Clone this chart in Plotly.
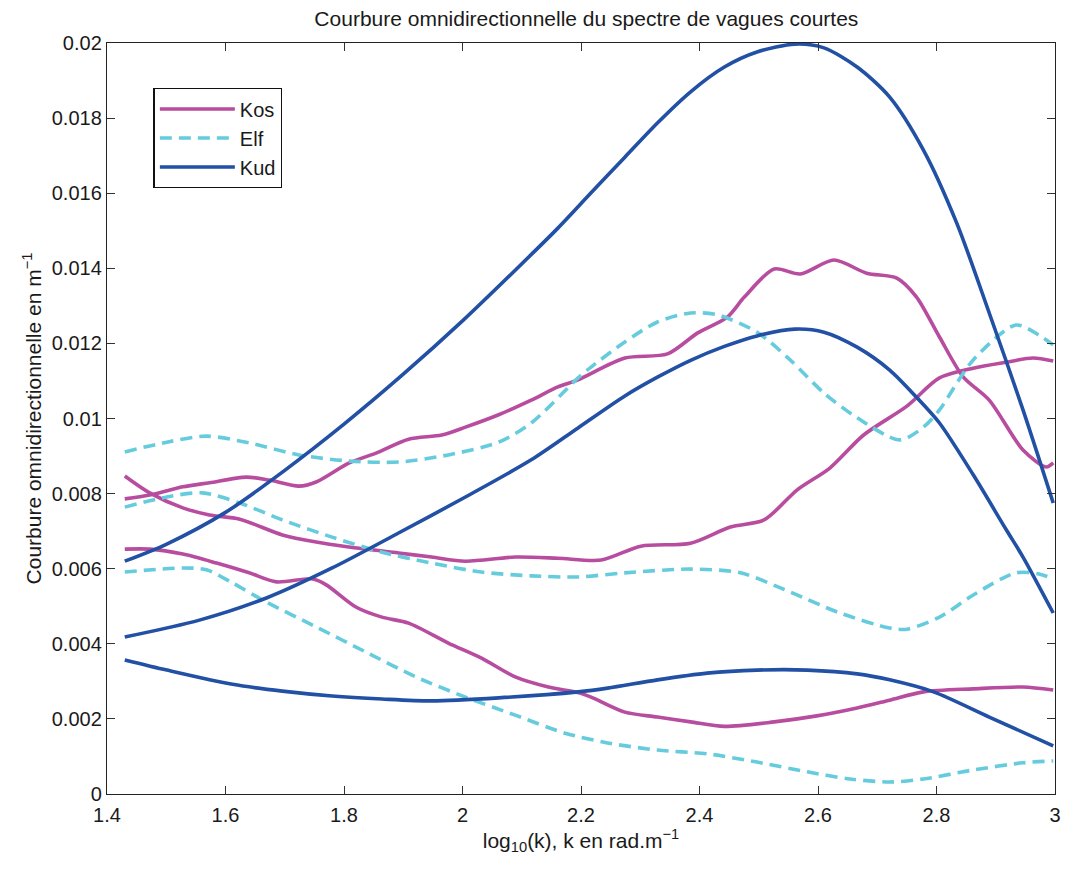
import plotly.graph_objects as go

# ---------------- data ----------------
kos1_x = [1.430, 1.472, 1.528, 1.573, 1.635, 1.674, 1.724, 1.753, 1.808, 1.854, 1.909, 1.965, 2.005, 2.061, 2.116,
          2.161, 2.195, 2.274, 2.346, 2.397, 2.447, 2.476, 2.526, 2.570, 2.627, 2.682, 2.733, 2.766, 2.805, 2.845,
          2.889, 2.946, 2.985, 2.997]
kos1_y = [0.00786, 0.00796, 0.00818, 0.00829, 0.00844, 0.00836, 0.00820, 0.00831, 0.00881, 0.00908, 0.00945, 0.00956,
          0.00977, 0.01010, 0.01049, 0.01084, 0.01103, 0.01161, 0.01172, 0.01228, 0.01270, 0.01324, 0.01398, 0.01385,
          0.01422, 0.01387, 0.01374, 0.01324, 0.01217, 0.01111, 0.01049, 0.00916, 0.00871, 0.00882]

kos2_x = [1.430, 1.472, 1.528, 1.573, 1.624, 1.696, 1.753, 1.808, 1.892, 1.948, 2.005, 2.089, 2.161, 2.234, 2.301,
          2.385, 2.452, 2.509, 2.565, 2.620, 2.677, 2.750, 2.805, 2.862, 2.918, 2.963, 2.997]
kos2_y = [0.00847, 0.00802, 0.00762, 0.00743, 0.00732, 0.00690, 0.00671, 0.00658, 0.00642, 0.00631, 0.00620, 0.00631,
          0.00628, 0.00623, 0.00660, 0.00668, 0.00711, 0.00730, 0.00810, 0.00868, 0.00956, 0.01033, 0.01108, 0.01134,
          0.01150, 0.01161, 0.01153]

kos3_x = [1.430, 1.472, 1.528, 1.585, 1.640, 1.686, 1.746, 1.770, 1.820, 1.864, 1.909, 1.976, 2.032, 2.089, 2.145,
          2.195, 2.217, 2.274, 2.329, 2.385, 2.442, 2.526, 2.598, 2.666, 2.721, 2.778, 2.862, 2.946, 2.997]
kos3_y = [0.00652, 0.00652, 0.00639, 0.00615, 0.00589, 0.00565, 0.00573, 0.00557, 0.00498, 0.00471, 0.00455, 0.00402,
          0.00362, 0.00312, 0.00285, 0.00270, 0.00258, 0.00218, 0.00205, 0.00192, 0.00180, 0.00192, 0.00208, 0.00229,
          0.00250, 0.00272, 0.00280, 0.00285, 0.00277]

elf1_x = [1.430, 1.501, 1.568, 1.640, 1.724, 1.808, 1.892, 1.976, 2.061, 2.116, 2.195, 2.217, 2.274, 2.329, 2.385,
          2.430, 2.497, 2.553, 2.610, 2.666, 2.738, 2.778, 2.805, 2.862, 2.934, 2.973, 2.997]
elf1_y = [0.00911, 0.00937, 0.00953, 0.00935, 0.00903, 0.00887, 0.00884, 0.00903, 0.00937, 0.00988, 0.01108, 0.01137,
          0.01204, 0.01257, 0.01281, 0.01276, 0.01230, 0.01156, 0.01068, 0.01002, 0.00943, 0.00977, 0.01023, 0.01156,
          0.01249, 0.01222, 0.01196]

elf2_x = [1.430, 1.501, 1.561, 1.624, 1.696, 1.780, 1.864, 1.948, 2.032, 2.116, 2.195, 2.274, 2.385, 2.469, 2.553,
          2.637, 2.721, 2.750, 2.805, 2.862, 2.934, 2.973, 2.997]
elf2_y = [0.00764, 0.00791, 0.00802, 0.00775, 0.00730, 0.00684, 0.00644, 0.00615, 0.00591, 0.00581, 0.00578, 0.00589,
          0.00599, 0.00589, 0.00538, 0.00482, 0.00442, 0.00439, 0.00471, 0.00530, 0.00589, 0.00586, 0.00573]

elf3_x = [1.430, 1.528, 1.568, 1.612, 1.669, 1.753, 1.837, 1.921, 2.005, 2.089, 2.173, 2.245, 2.329, 2.413, 2.497,
          2.582, 2.654, 2.721, 2.778, 2.862, 2.946, 2.997]
elf3_y = [0.00591, 0.00602, 0.00597, 0.00562, 0.00511, 0.00445, 0.00378, 0.00312, 0.00258, 0.00210, 0.00162, 0.00136,
          0.00117, 0.00107, 0.00085, 0.00059, 0.00040, 0.00032, 0.00040, 0.00064, 0.00083, 0.00088]

kud1_x = [1.430, 1.500, 1.600, 1.700, 1.800, 1.900, 2.000, 2.089, 2.161, 2.217, 2.274, 2.329, 2.385, 2.442, 2.497,
          2.561, 2.610, 2.666, 2.721, 2.778, 2.834, 2.889, 2.946, 2.997]
kud1_y = [0.00620, 0.00665, 0.00750, 0.00862, 0.00985, 0.01118, 0.01260, 0.01395, 0.01507, 0.01601, 0.01696, 0.01787,
          0.01870, 0.01936, 0.01976, 0.01997, 0.01987, 0.01936, 0.01856, 0.01715, 0.01521, 0.01281, 0.01023, 0.00775]

kud2_x = [1.430, 1.556, 1.669, 1.780, 1.892, 2.005, 2.116, 2.195, 2.274, 2.329, 2.385, 2.442, 2.497, 2.561, 2.610,
          2.666, 2.721, 2.766, 2.805, 2.862, 2.918, 2.946, 2.997]
kud2_y = [0.00418, 0.00463, 0.00522, 0.00602, 0.00695, 0.00791, 0.00890, 0.00975, 0.01060, 0.01110, 0.01155, 0.01192,
          0.01220, 0.01238, 0.01230, 0.01190, 0.01129, 0.01057, 0.00988, 0.00850, 0.00703, 0.00631, 0.00482]

kud3_x = [1.430, 1.501, 1.612, 1.696, 1.780, 1.864, 1.948, 2.061, 2.195, 2.245, 2.329, 2.413, 2.497, 2.582, 2.666,
          2.721, 2.795, 2.889, 2.997]
kud3_y = [0.00357, 0.00330, 0.00292, 0.00274, 0.00261, 0.00253, 0.00248, 0.00256, 0.00272, 0.00282, 0.00304, 0.00322,
          0.00330, 0.00330, 0.00320, 0.00304, 0.00272, 0.00205, 0.00128]

x_ticks = [1.4, 1.6, 1.8, 2.0, 2.2, 2.4, 2.6, 2.8, 3.0]
x_labels = ["1.4", "1.6", "1.8", "2", "2.2", "2.4", "2.6", "2.8", "3"]
y_ticks = [0, 0.002, 0.004, 0.006, 0.008, 0.01, 0.012, 0.014, 0.016, 0.018, 0.02]
y_labels = ["0", "0.002", "0.004", "0.006", "0.008", "0.01", "0.012", "0.014", "0.016", "0.018", "0.02"]

# ---------------- styles ----------------
KOS = "#B84D9F"
ELF = "#66CCDD"
KUD = "#2150A4"
LW = 3.6

fig = go.Figure()

series = [
    ("Kos", KOS, "solid", [(kos1_x, kos1_y), (kos2_x, kos2_y), (kos3_x, kos3_y)]),
    ("Elf", ELF, "12px,7px", [(elf1_x, elf1_y), (elf2_x, elf2_y), (elf3_x, elf3_y)]),
    ("Kud", KUD, "solid", [(kud1_x, kud1_y), (kud2_x, kud2_y), (kud3_x, kud3_y)]),
]

for name, col, dash, curves in series:
    for i, (xs, ys) in enumerate(curves):
        fig.add_trace(go.Scatter(
            x=xs, y=ys, mode="lines", name=name, legendgroup=name,
            showlegend=(i == 0),
            line=dict(color=col, width=LW, dash=dash, shape="spline", smoothing=0.8),
        ))

font_family = "Liberation Sans, Arial, sans-serif"
TXT = "#1a1a1a"

axis_common = dict(
    showgrid=False, zeroline=False, showline=True, linecolor="#222222", linewidth=1.4,
    mirror="allticks", ticks="inside", ticklen=8, tickcolor="#333333", tickwidth=1,
    tickfont=dict(family=font_family, size=20, color=TXT),
)

fig.update_layout(
    width=1070, height=869,
    margin=dict(l=107, r=9, t=43, b=75),
    paper_bgcolor="white", plot_bgcolor="white",
    font=dict(family=font_family, color=TXT),
    title=dict(text="Courbure omnidirectionnelle du spectre de vagues courtes",
               x=0.548, xanchor="center", y=0.978, yanchor="middle",
               font=dict(family=font_family, size=21, color=TXT)),
    xaxis=dict(range=[1.4, 3.0], tickvals=x_ticks, ticktext=x_labels, ticklabelstandoff=3,
               title=dict(text="log<sub>10</sub>(k), k en rad.m<sup>\u22121</sup>",
                          font=dict(family=font_family, size=21, color=TXT), standoff=5),
               **axis_common),
    yaxis=dict(range=[0, 0.02], tickvals=y_ticks, ticktext=y_labels,
               title=dict(text="Courbure omnidirectionnelle en m<sup>\u22121</sup>",
                          font=dict(family=font_family, size=21, color=TXT), standoff=4),
               **axis_common),
    legend=dict(x=0.049, y=0.94, xanchor="left", yanchor="top",
                bgcolor="white", bordercolor="#111111", borderwidth=1.4,
                font=dict(family=font_family, size=20, color=TXT),
                tracegroupgap=0, itemwidth=75),
)

fig.write_html("out.html")
